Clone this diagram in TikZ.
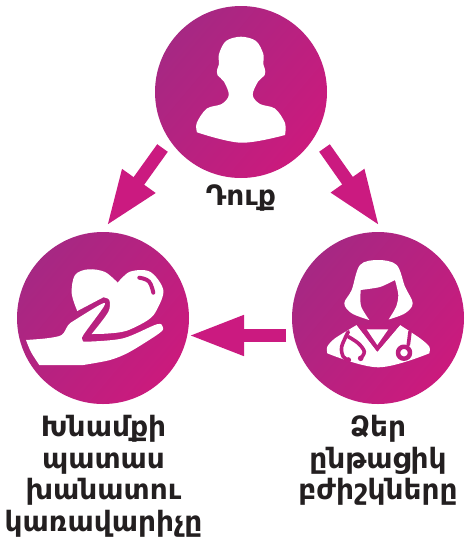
\documentclass[tikz,border=0pt]{standalone}
\usepackage{fontspec}
\setmainfont{DejaVu Sans}
\usetikzlibrary{arrows.meta}
\definecolor{gradA}{HTML}{A62883}
\definecolor{gradB}{HTML}{CB1A7D}
\definecolor{iconInk}{HTML}{BC1F80}
\definecolor{arrowInk}{HTML}{CB1A80}
\definecolor{labelInk}{HTML}{231F20}
\tikzset{
  hub/.style={circle,minimum size=172pt,inner sep=0pt,left color=gradA,right color=gradB,shading angle=50},
  flow/.style={draw=arrowInk,line width=13pt,shorten >=-3pt,-{Triangle[length=56pt,width=37pt,fill=arrowInk]}},
  caption/.style={font=\bfseries\fontsize{28}{31.7}\selectfont,text=labelInk,align=center,inner sep=0pt,anchor=north},
  cutout/.style={fill=white,draw=none},
  icondetail/.style={draw=iconInk,line cap=round,line join=round}
}
\begin{document}
\begin{tikzpicture}[x=1pt,y=-1pt]
\useasboundingbox (0,0) rectangle (474,542);
\node[hub] (you) at (241,92) {};
\node[hub] (care) at (103,318) {};
\node[hub] (doc) at (378,318) {};
\coordinate (t1) at (162.5,148); \coordinate (h1) at (108,224);
\coordinate (t2) at (324.5,148); \coordinate (h2) at (378,224);
\coordinate (t3) at (286,335.5); \coordinate (h3) at (191,335.5);
\draw[flow] (t1) -- (h1);
\draw[flow] (t2) -- (h2);
\draw[flow] (t3) -- (h3);
% person
\fill[cutout] plot[smooth,tension=.55] coordinates {(197,132.3) (196.7,123) (206.7,108.6) (221.7,104) (228.8,95) (224,81.7) (217.5,75) (217.3,69) (219,64) (219,54) (226,41) (241,36.7) (256,41) (263.3,54) (263.3,64) (264.9,69) (264.7,75) (258,81.7) (252.7,95) (260,104) (275,108.6) (285,123) (285,135)}
  -- plot[smooth,tension=.6] coordinates {(285,135) (241,142.7) (197,132.3)} -- cycle;
% heart
\fill[cutout] plot[smooth,tension=.55] coordinates {(77.3,311) (71.7,293.3) (75,275) (88.3,269.3) (105,272) (117.7,282.7)}
  -- plot[smooth,tension=.55] coordinates {(117.7,282.7) (130,271.7) (150,271.7) (163.3,290) (156.7,310) (148,320) (126.7,330.7) (108,333.5) (91.7,334)}
  -- plot[smooth,tension=.5] coordinates {(91.7,334) (108.3,312) (109.3,300) (103.3,297.3)} -- cycle;
\draw[icondetail,line width=4pt] plot[smooth,tension=.7] coordinates {(139.3,277.7) (149,281.5) (153.3,292.7)};
% hand
\fill[cutout] (26,340) -- plot[smooth,tension=.5] coordinates {(26,340) (46.7,338.3) (61.7,335) (68.3,325) (75,320) (101.5,304) (103.5,307) (83.3,335) (82.7,340) (86.7,341.7) (123.3,338.3) (156.7,324.3) (162.7,326.7) (160,332.7) (130,351.7) (110,360) (83.3,365)}
  -- (39.3,365) -- plot[smooth,tension=.5] coordinates {(39.3,365) (31,352) (26,340)} -- cycle;
% doctor: hair
\fill[cutout] plot[smooth,tension=.55] coordinates {(369.3,320) (351.7,313.3) (344.3,303.3) (351.7,290) (360,265) (378.3,260) (396.7,265) (405,286.7) (412.7,303.3) (405,313.3) (388.6,319.5)}
  -- plot[smooth,tension=.5] coordinates {(388.6,319.5) (396,307) (398.3,295) (395,280)}
  -- plot[smooth,tension=.4] coordinates {(395,280) (380,287) (360.7,290)}
  -- plot[smooth,tension=.5] coordinates {(360.7,290) (361,306) (369.3,320)} -- cycle;
% doctor: coat
\fill[cutout] plot[smooth,tension=.5] coordinates {(327.3,353.3) (327.3,346.7) (335,338.3) (356.7,325)}
  -- (377.3,351.7) -- plot[smooth,tension=.5] coordinates {(400,325) (420,338.3) (429.3,346.7) (429.3,353.3)}
  -- plot[smooth,tension=.6] coordinates {(429.3,353.3) (378.3,367.3) (327.3,353.3)} -- cycle;
\fill[iconInk] (377.3,351.7) -- (356.7,325) -- (400,325) -- cycle;
\fill[cutout] (366.7,329.3) -- (388.3,329.3) -- (377.3,345) -- cycle;
% stethoscope
\draw[icondetail,line width=3.6pt] plot[smooth,tension=.6] coordinates {(348.3,331.7) (341.7,346.7) (343.3,356.7) (348.3,360)};
\draw[icondetail,line width=3.6pt] plot[smooth,tension=.6] coordinates {(348.3,336.7) (358.3,343.3) (364.3,351.7) (360.7,358.3)};
\fill[iconInk] (348.3,360) circle (2.8pt) (360.7,358.3) circle (2.8pt);
\draw[icondetail,line width=3.6pt] (410,331.7) -- (408.3,345);
\draw[icondetail,line width=4.5pt] (404,352.7) circle (6pt);
% labels
\node[caption] (l1) at (241,184) {Դուք};
\node[caption] (l2) at (103.5,415) {Խնամքի\\պատաս\\խանատու\\կառավարիչը};
\node[caption] (l3) at (378,415) {Ձեր\\ընթացիկ\\բժիշկները};
\end{tikzpicture}
\end{document}
